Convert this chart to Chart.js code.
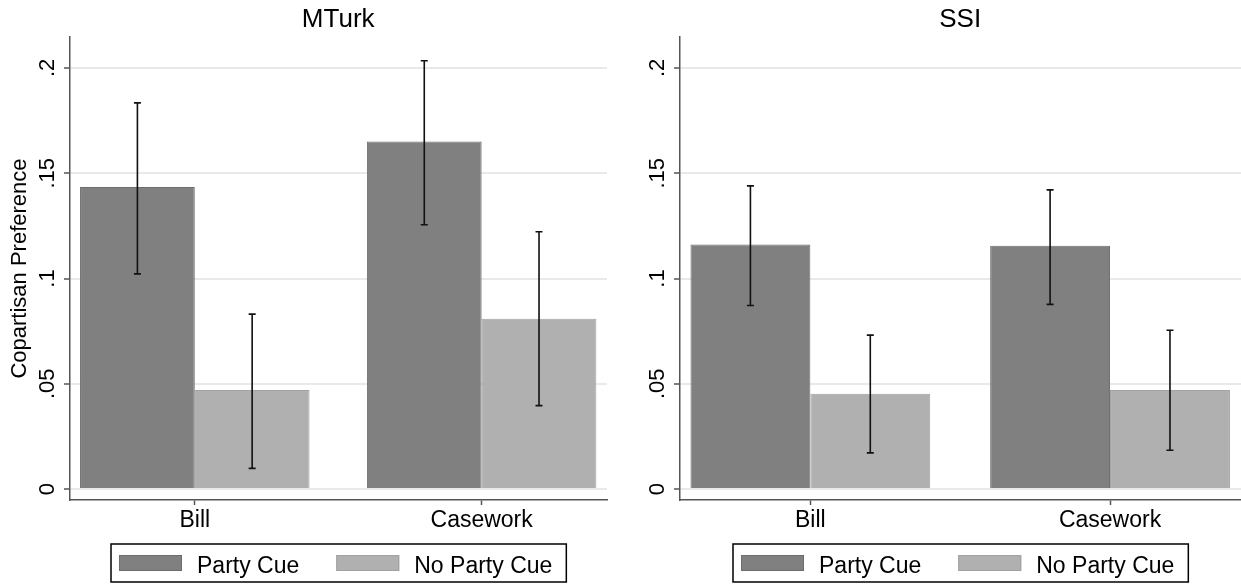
<!DOCTYPE html>
<html>
<head>
<meta charset="utf-8">
<script src="https://cdn.jsdelivr.net/npm/chart.js@4.4.1/dist/chart.umd.min.js"></script>
<style>
  html, body { margin: 0; padding: 0; background: #fff; }
  body { width: 1241px; height: 586px; position: relative; overflow: hidden; }
  .panel { position: absolute; top: 0; height: 586px; }
  #left { left: 0; width: 610px; }
  #right { left: 610px; width: 631px; }
</style>
</head>
<body>
<div class="panel" id="left"><canvas id="mturk"></canvas></div>
<div class="panel" id="right"><canvas id="ssi"></canvas></div>
<script>
const categories = ['Bill', 'Casework'];
const seriesNames = ['Party Cue', 'No Party Cue'];
const seriesColors = ['#808080', '#b0b0b0'];
const seriesBorders = ['#6c6c6c', '#a2a2a2'];

// MTurk panel
const mturkPartyCue = [0.1434, 0.1651];
const mturkPartyCueLow = [0.1022, 0.1255];
const mturkPartyCueHigh = [0.1834, 0.2034];
const mturkNoCue = [0.0470, 0.0809];
const mturkNoCueLow = [0.0098, 0.0396];
const mturkNoCueHigh = [0.0831, 0.1222];

// SSI panel
const ssiPartyCue = [0.1162, 0.1155];
const ssiPartyCueLow = [0.0872, 0.0877];
const ssiPartyCueHigh = [0.1440, 0.1421];
const ssiNoCue = [0.0453, 0.0470];
const ssiNoCueLow = [0.0172, 0.0184];
const ssiNoCueHigh = [0.0731, 0.0754];

const yTicks = [0, 0.05, 0.1, 0.15, 0.2];
const yTickLabels = ['0', '.05', '.1', '.15', '.2'];

const FONT = "'Liberation Sans', Arial, Helvetica, sans-serif";
const AXIS_COLOR = '#555';

// error bars, panel title and boxed legend
const panelExtras = {
  id: 'panelExtras',
  afterDatasetsDraw(chart) {
    const ctx = chart.ctx;
    const ys = chart.scales.y;
    ctx.save();
    ctx.strokeStyle = '#111';
    ctx.lineWidth = 1.6;
    chart.data.datasets.forEach((ds, di) => {
      const meta = chart.getDatasetMeta(di);
      meta.data.forEach((bar, i) => {
        const lo = ys.getPixelForValue(ds.low[i]);
        const hi = ys.getPixelForValue(ds.high[i]);
        ctx.beginPath();
        ctx.moveTo(bar.x, lo); ctx.lineTo(bar.x, hi);
        ctx.moveTo(bar.x - 3.5, lo); ctx.lineTo(bar.x + 3.5, lo);
        ctx.moveTo(bar.x - 3.5, hi); ctx.lineTo(bar.x + 3.5, hi);
        ctx.stroke();
      });
    });
    ctx.restore();
  },
  afterDraw(chart, args, opts) {
    const ctx = chart.ctx;
    const cx = chart.scales.x.getPixelForValue(0.5);
    ctx.save();
    // title
    ctx.fillStyle = '#000';
    ctx.font = '26px ' + FONT;
    ctx.textAlign = 'center';
    ctx.textBaseline = 'alphabetic';
    ctx.fillText(opts.title, cx, 27);

    // legend
    ctx.font = '23px ' + FONT;
    const widths = seriesNames.map(n => ctx.measureText(n).width);
    const boxW = 8 + 63 + 15 + widths[0] + 37 + 63 + 15 + widths[1] + 14;
    const left = Math.round(cx - boxW / 2);
    const top = Math.round(chart.chartArea.bottom + 44);
    ctx.strokeStyle = '#000';
    ctx.lineWidth = 1.5;
    ctx.strokeRect(left, top, boxW, 38);
    let x = left + 8;
    seriesNames.forEach((name, k) => {
      ctx.fillStyle = seriesColors[k];
      ctx.fillRect(x, top + 11, 63, 16);
      ctx.strokeStyle = seriesBorders[k];
      ctx.lineWidth = 1;
      ctx.strokeRect(x + 0.5, top + 11.5, 62, 15);
      x += 63 + 15;
      ctx.fillStyle = '#000';
      ctx.textAlign = 'left';
      ctx.fillText(name, x, top + 29);
      x += widths[k] + 37;
    });
    ctx.restore();
  }
};

function makePanel(canvasId, title, party, partyLow, partyHigh, noCue, noCueLow, noCueHigh, showYTitle, rightPad) {
  const toPoints = vals => categories.map((c, i) => ({ x: i, y: vals[i] }));
  return new Chart(document.getElementById(canvasId), {
    type: 'bar',
    data: {
      datasets: [
        {
          label: seriesNames[0],
          data: toPoints(party),
          low: partyLow,
          high: partyHigh,
          backgroundColor: seriesColors[0],
          borderColor: seriesBorders[0],
          borderWidth: 1
        },
        {
          label: seriesNames[1],
          data: toPoints(noCue),
          low: noCueLow,
          high: noCueHigh,
          backgroundColor: seriesColors[1],
          borderColor: seriesBorders[1],
          borderWidth: 1
        }
      ]
    },
    options: {
      responsive: true,
      maintainAspectRatio: false,
      animation: false,
      categoryPercentage: 0.8,
      barPercentage: 1.0,
      layout: { padding: { left: 0, top: 37, right: rightPad, bottom: 0 } },
      plugins: {
        legend: { display: false },
        tooltip: { enabled: false },
        panelExtras: { title: title }
      },
      scales: {
        x: {
          type: 'linear',
          offset: false,
          min: -0.435,
          max: 1.437,
          afterBuildTicks: scale => { scale.ticks = categories.map((c, i) => ({ value: i })); },
          afterFit: scale => { scale.height = 86; },
          grid: {
            offset: false,
            drawOnChartArea: false,
            drawTicks: true,
            tickLength: 5,
            tickColor: AXIS_COLOR,
            tickWidth: 1.5
          },
          border: { display: true, color: AXIS_COLOR, width: 1.5 },
          ticks: {
            color: '#000',
            padding: 2,
            maxRotation: 0,
            font: { family: FONT, size: 23 },
            callback: v => categories[v]
          }
        },
        y: {
          min: -0.0052,
          max: 0.2147,
          afterBuildTicks: scale => { scale.ticks = yTicks.map(v => ({ value: v })); },
          afterFit: scale => { scale.width = 70; },
          grid: {
            color: '#e9e9e9',
            lineWidth: 2,
            tickLength: 6,
            tickColor: AXIS_COLOR,
            tickWidth: 1.5
          },
          border: { display: true, color: AXIS_COLOR, width: 1.5 },
          ticks: {
            color: '#000',
            minRotation: 90,
            maxRotation: 90,
            crossAlign: 'center',
            padding: 1,
            font: { family: FONT, size: 22 },
            callback: v => yTickLabels[yTicks.indexOf(v)]
          },
          title: {
            display: showYTitle,
            text: 'Copartisan Preference',
            color: '#000',
            padding: { top: 7, bottom: 0 },
            font: { family: FONT, size: 22 }
          }
        }
      }
    },
    plugins: [panelExtras]
  });
}

makePanel('mturk', 'MTurk', mturkPartyCue, mturkPartyCueLow, mturkPartyCueHigh,
  mturkNoCue, mturkNoCueLow, mturkNoCueHigh, true, 3);
makePanel('ssi', 'SSI', ssiPartyCue, ssiPartyCueLow, ssiPartyCueHigh,
  ssiNoCue, ssiNoCueLow, ssiNoCueHigh, false, 0);
</script>
</body>
</html>
